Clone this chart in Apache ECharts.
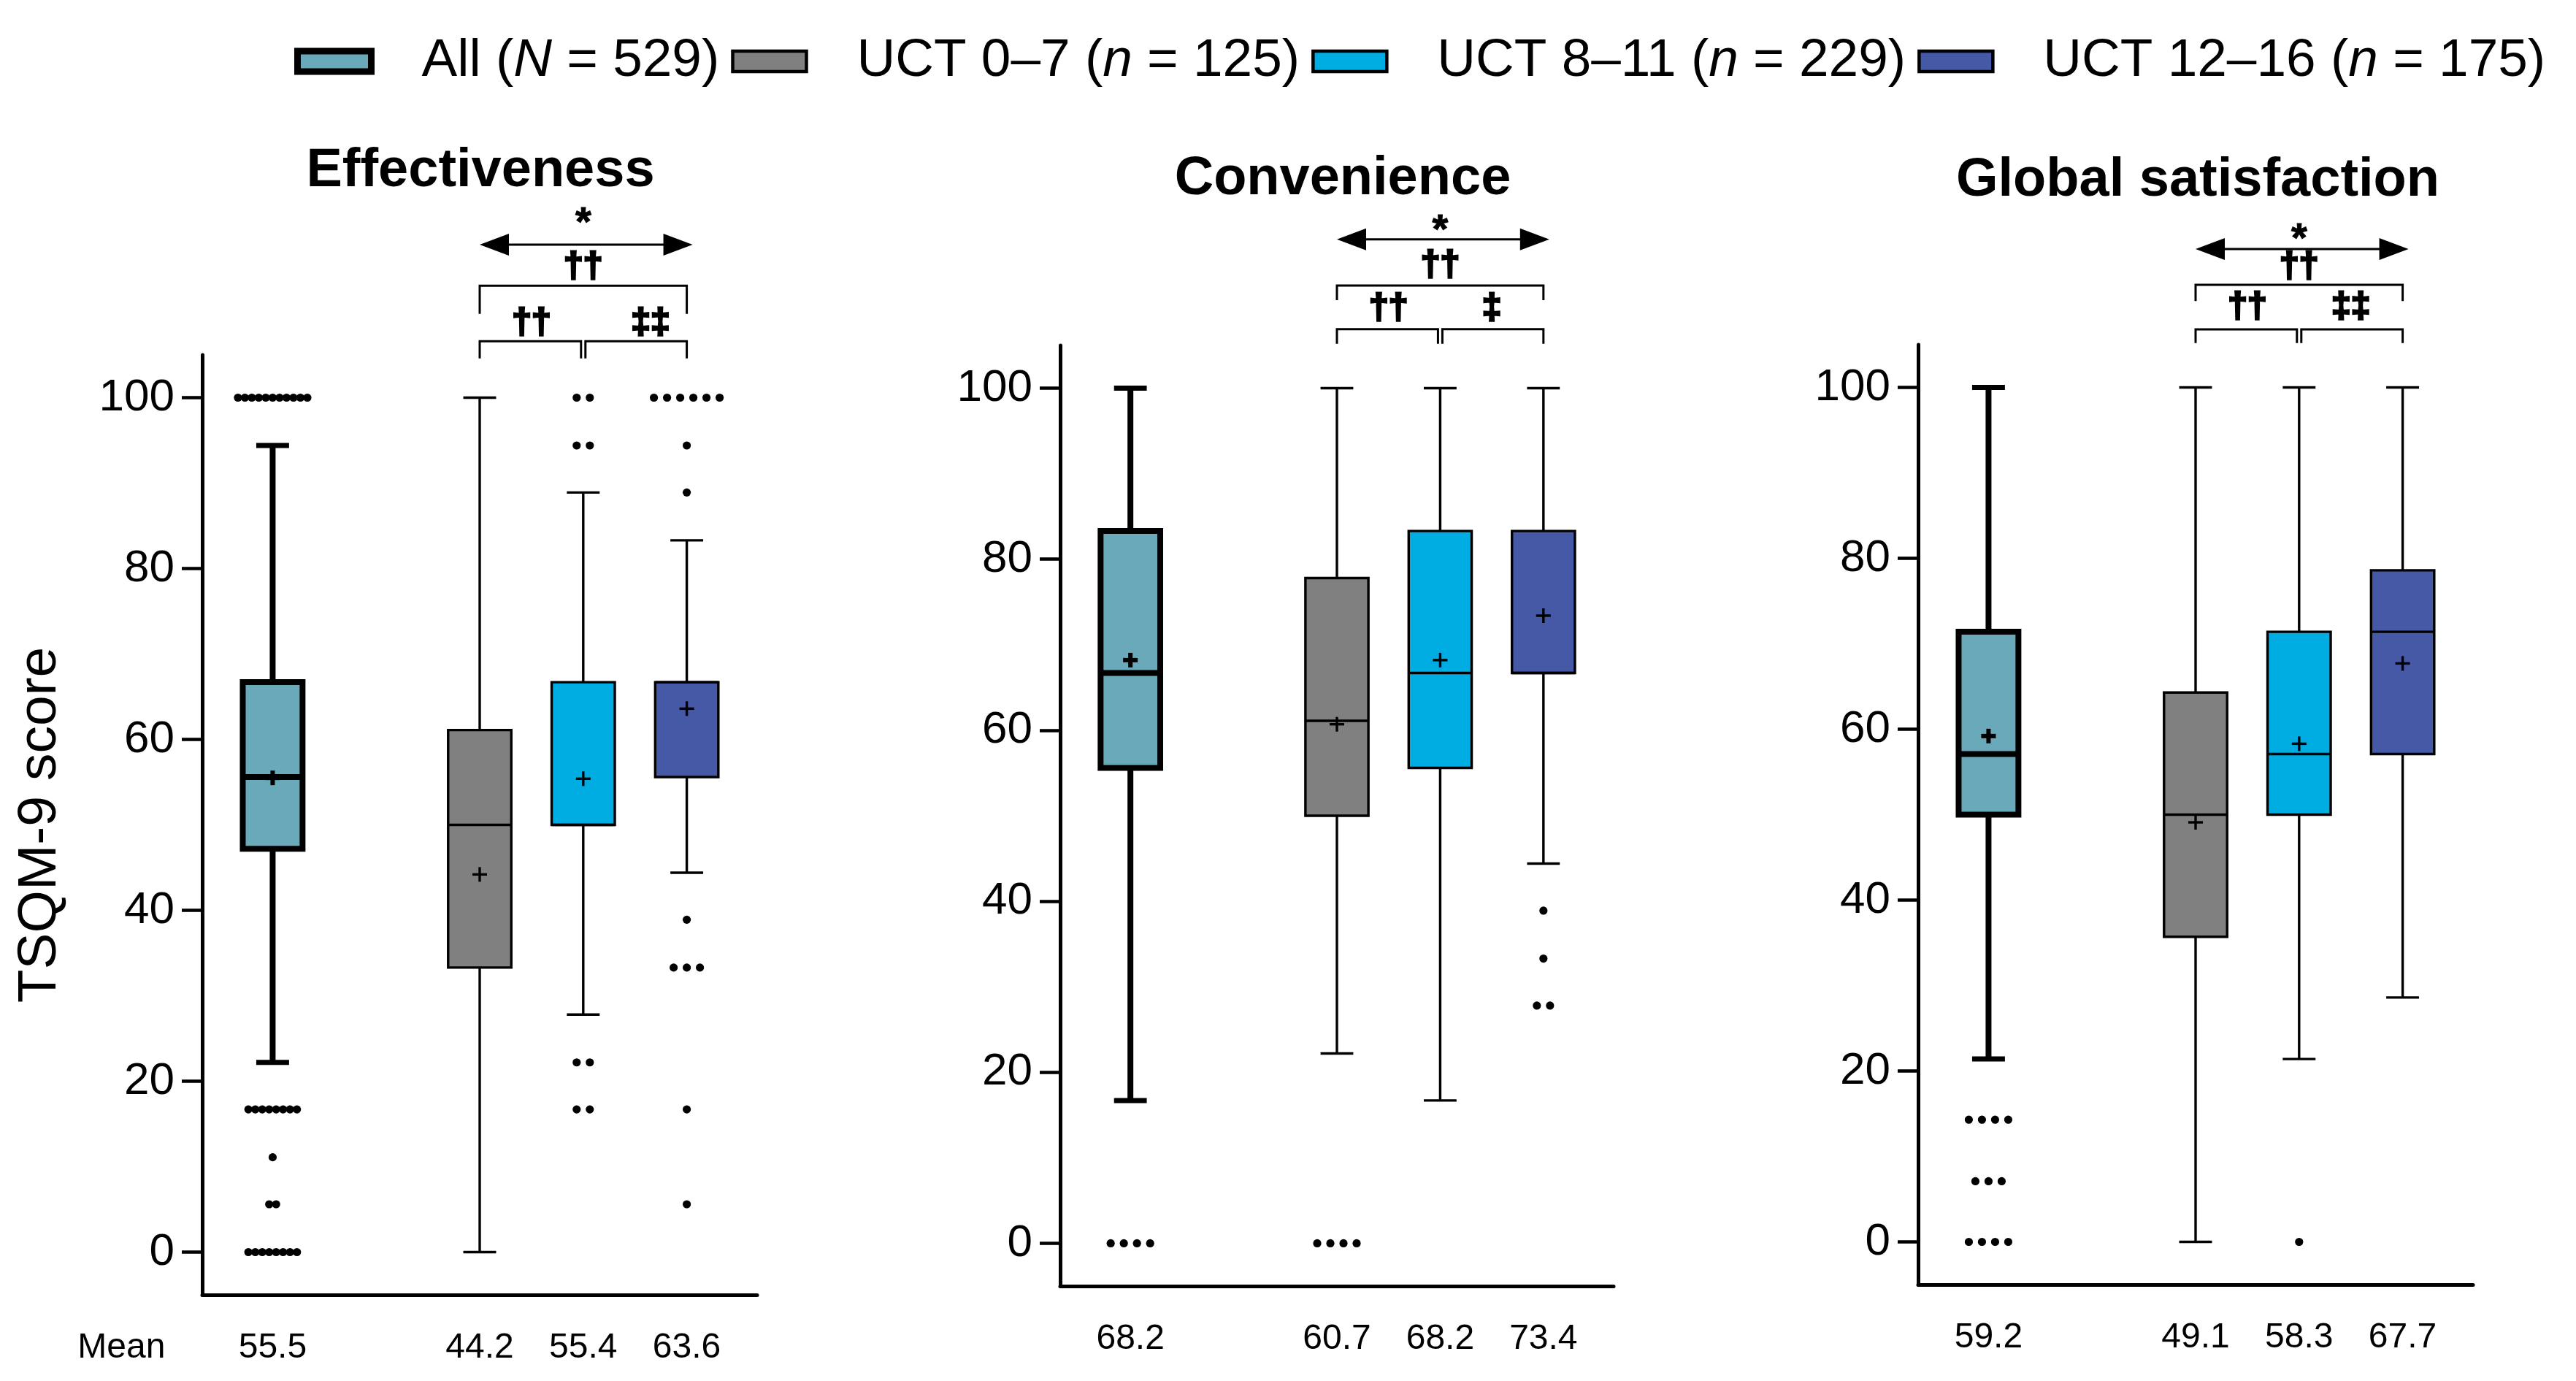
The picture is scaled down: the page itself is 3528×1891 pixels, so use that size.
<!DOCTYPE html>
<html>
<head>
<meta charset="utf-8">
<script src="https://cdn.jsdelivr.net/npm/echarts@6/dist/echarts.min.js"></script>
<style>
  html, body { margin: 0; padding: 0; background: #fff; }
  #chart { width: 3528px; height: 1891px; }
</style>
</head>
<body>
<div id="chart"></div>
<script>
// ---- data ----
var panelTitles = ['Effectiveness', 'Convenience', 'Global satisfaction'];
var groupNames = ['All (N = 529)', 'UCT 0–7 (n = 125)', 'UCT 8–11 (n = 229)', 'UCT 12–16 (n = 175)'];
var groupLabels = ['All ({i|N} = 529)', 'UCT 0–7 ({i|n} = 125)', 'UCT 8–11 ({i|n} = 229)', 'UCT 12–16 ({i|n} = 175)'];
var groupX = [0, 2, 3, 4];
var yTicks = [0, 20, 40, 60, 80, 100];

// [min whisker, Q1, median, Q3, max whisker] per group
var effBox = [[22.2, 47.2, 55.6, 66.7, 94.4], [0, 33.3, 50, 61.1, 100], [27.8, 50, 50, 66.7, 88.9], [44.4, 55.6, 66.7, 66.7, 83.3]];
var effMean = [55.5, 44.2, 55.4, 63.6];
// outliers: [value, number of dots]
var effOut = [
  [[100, 11], [16.7, 8], [11.1, 1], [5.6, 2], [0, 8]],
  [],
  [[100, 2], [94.4, 2], [22.2, 2], [16.7, 2]],
  [[100, 6], [94.4, 1], [88.9, 1], [38.9, 1], [33.3, 3], [16.7, 1], [5.6, 1]]
];
var effSig = ['*', '††', '††', '‡‡'];

var convBox = [[16.7, 55.6, 66.7, 83.3, 100], [22.2, 50, 61.1, 77.8, 100], [16.7, 55.6, 66.7, 83.3, 100], [44.4, 66.7, 66.7, 83.3, 100]];
var convMean = [68.2, 60.7, 68.2, 73.4];
var convOut = [[[0, 4]], [[0, 4]], [], [[38.9, 1], [33.3, 1], [27.8, 2]]];
var convSig = ['*', '††', '††', '‡'];

var globBox = [[21.4, 50, 57.1, 71.4, 100], [0, 35.7, 50, 64.3, 100], [21.4, 50, 57.1, 71.4, 100], [28.6, 57.1, 71.4, 78.6, 100]];
var globMean = [59.2, 49.1, 58.3, 67.7];
var globOut = [[[14.3, 4], [7.1, 3], [0, 4]], [], [[0, 1]], []];
var globSig = ['*', '††', '††', '‡‡'];

// ---- look ----
var groupColors = ['#6aa9ba', '#808080', '#00ade3', '#4559a7'];
var fontFam = '"Liberation Sans", Arial, Helvetica, sans-serif';
var boxWidth = 0.634; // in x units
var meanLabelY = -11.2;
var grids = [
  { left: 277, top: 486, width: 760, height: 1287 },
  { left: 1452, top: 473, width: 758, height: 1288 },
  { left: 2627, top: 472, width: 760, height: 1287 }
];
var titlePos = [[658, 195], [1839, 206], [3010, 208]];
// heights (y units) of the significance marks above each panel
var sigLevels = [
  { star: 120.3, arrow: 117.9, top: 115.3, upper: 113.1, upperEnd: 109.8, lowerText: 108.7, lower: 106.6, lowerEnd: 104.6, rightX: 3.65 },
  { star: 118.4, arrow: 117.4, top: 114.3, upper: 112.0, upperEnd: 110.3, lowerText: 109.3, lower: 106.9, lowerEnd: 105.2, rightX: 3.5 },
  { star: 117.3, arrow: 116.2, top: 114.1, upper: 112.0, upperEnd: 110.1, lowerText: 109.4, lower: 106.8, lowerEnd: 105.2, rightX: 3.5 }
];

var panels = [
  { box: effBox, mean: effMean, out: effOut, sig: effSig },
  { box: convBox, mean: convMean, out: convOut, sig: convSig },
  { box: globBox, mean: globMean, out: globOut, sig: globSig }
];

function ln(x1, y1, x2, y2, w) {
  return { type: 'line', shape: { x1: x1, y1: y1, x2: x2, y2: y2 }, style: { stroke: '#000', lineWidth: w } };
}

function txt(s, x, y, size, weight, heavy) {
  var st = { text: s, x: x, y: y, align: 'center', verticalAlign: 'middle', fontSize: size, fontWeight: weight || 'normal', fontFamily: fontFam, fill: '#000' };
  if (heavy) { st.stroke = '#000'; st.lineWidth = heavy; }
  return { type: 'text', style: st };
}

// box + whiskers + median + mean cross
function renderBox(params, api) {
  var x = api.value(0);
  var g = api.value(7);
  var thick = g === 0;
  var lw = thick ? 8 : 3.4;
  var half = api.size([boxWidth, 0])[0] / 2;
  var cap = half * 0.5;
  var cx = api.coord([x, 0])[0];
  var y = function(i) { return api.coord([x, api.value(i)])[1]; };
  var yMin = y(1), yQ1 = y(2), yMed = y(3), yQ3 = y(4), yMax = y(5), yMean = y(6);
  var p = 10;
  var pw = thick ? 6 : 3.4;
  return {
    type: 'group',
    children: [
      ln(cx, yMax, cx, yQ3, lw),
      ln(cx, yQ1, cx, yMin, lw),
      ln(cx - cap, yMax, cx + cap, yMax, thick ? 7 : 3.4),
      ln(cx - cap, yMin, cx + cap, yMin, thick ? 7 : 3.4),
      {
        type: 'rect',
        shape: { x: cx - half + lw / 2, y: yQ3, width: 2 * half - lw, height: yQ1 - yQ3 },
        style: { fill: api.visual('color'), stroke: '#000', lineWidth: lw }
      },
      ln(cx - half + lw / 2, yMed, cx + half - lw / 2, yMed, lw),
      ln(cx - p, yMean, cx + p, yMean, pw),
      ln(cx, yMean - p, cx, yMean + p, pw)
    ]
  };
}

// row of outlier dots
function renderOutlier(params, api) {
  var c = api.coord([api.value(0), api.value(1)]);
  var n = api.value(2), maxN = api.value(3);
  var step = maxN > 1 ? Math.min(18, 95 / (maxN - 1)) : 18;
  var kids = [];
  for (var k = 0; k < n; k++) {
    kids.push({ type: 'circle', shape: { cx: c[0] + (k - (n - 1) / 2) * step, cy: c[1], r: 5.6 }, style: { fill: '#000' } });
  }
  return { type: 'group', children: kids };
}

function renderMean(params, api) {
  var c = api.coord([api.value(0), meanLabelY]);
  return txt(api.value(1).toFixed(1), c[0], c[1], 48);
}

function makeSigRenderer(p) {
  return function(params, api) {
    var L = sigLevels[p];
    var s = panels[p].sig;
    var xa = api.coord([2, 0])[0], xb = api.coord([3, 0])[0], xc = api.coord([4, 0])[0];
    var yy = function(v) { return api.coord([0, v])[1]; };
    var ya = yy(L.arrow), yu = yy(L.upper), yue = yy(L.upperEnd), yl = yy(L.lower), yle = yy(L.lowerEnd);
    var xr = xc + 8;
    var kids = [
      ln(xa + 30, ya, xr - 30, ya, 3),
      { type: 'polygon', shape: { points: [[xa, ya], [xa + 40, ya - 15], [xa + 40, ya + 15]] }, style: { fill: '#000' } },
      { type: 'polygon', shape: { points: [[xr, ya], [xr - 40, ya - 15], [xr - 40, ya + 15]] }, style: { fill: '#000' } },
      { type: 'polyline', shape: { points: [[xa, yue], [xa, yu], [xc, yu], [xc, yue]] }, style: { stroke: '#000', lineWidth: 3, fill: null } },
      { type: 'polyline', shape: { points: [[xa, yle], [xa, yl], [xb - 3, yl], [xb - 3, yle]] }, style: { stroke: '#000', lineWidth: 3, fill: null } },
      { type: 'polyline', shape: { points: [[xb + 3, yle], [xb + 3, yl], [xc, yl], [xc, yle]] }, style: { stroke: '#000', lineWidth: 3, fill: null } },
      txt(s[0], xb, yy(L.star), 56, 'bold', 1),
      txt(s[1], xb, yy(L.top), 48, 'bold', 3),
      txt(s[2], api.coord([2.5, 0])[0], yy(L.lowerText), 48, 'bold', 3),
      txt(s[3], api.coord([L.rightX, 0])[0], yy(L.lowerText), 48, 'bold', 3)
    ];
    if (p === 0) {
      var m = api.coord([-1.46, meanLabelY]);
      kids.push(txt('Mean', m[0], m[1], 48));
    }
    return { type: 'group', children: kids };
  };
}

var xAxes = [], yAxes = [], series = [], titles = [];
panels.forEach(function(pn, p) {
  xAxes.push({
    type: 'value', gridIndex: p, min: -0.68, max: 4.68,
    axisLine: { show: true, onZero: false, lineStyle: { color: '#000', width: 5 } },
    axisTick: { show: false }, axisLabel: { show: false }, splitLine: { show: false }
  });
  yAxes.push({
    type: 'value', gridIndex: p, min: -5, max: 105,
    name: p === 0 ? 'TSQM-9 score' : '',
    nameLocation: 'middle', nameGap: 184, nameRotate: 90,
    nameTextStyle: { fontSize: 75, color: '#000', fontFamily: fontFam },
    axisLine: { show: true, onZero: false, lineStyle: { color: '#000', width: 5 } },
    axisTick: { show: true, length: 28, customValues: yTicks, lineStyle: { color: '#000', width: 4.5 } },
    axisLabel: { customValues: yTicks, fontSize: 62, color: '#000', margin: 38, fontFamily: fontFam },
    splitLine: { show: false }
  });
  titles.push({
    text: panelTitles[p], left: titlePos[p][0], top: titlePos[p][1], textAlign: 'center', padding: 0,
    textStyle: { fontSize: 74, fontWeight: 'bold', color: '#000', fontFamily: fontFam, lineHeight: 80 }
  });

  pn.box.forEach(function(b, g) {
    series.push({
      type: 'custom', name: groupNames[g], xAxisIndex: p, yAxisIndex: p, clip: false, z: 2,
      itemStyle: { color: groupColors[g] },
      renderItem: renderBox,
      data: [[groupX[g]].concat(b, [pn.mean[g], g])]
    });
  });

  var outData = [];
  pn.out.forEach(function(list, g) {
    var maxN = list.reduce(function(m, o) { return Math.max(m, o[1]); }, 1);
    list.forEach(function(o) { outData.push([groupX[g], o[0], o[1], maxN]); });
  });
  series.push({ type: 'custom', xAxisIndex: p, yAxisIndex: p, clip: false, z: 3, silent: true, renderItem: renderOutlier, data: outData });

  series.push({
    type: 'custom', xAxisIndex: p, yAxisIndex: p, clip: false, silent: true, renderItem: renderMean,
    data: pn.mean.map(function(m, g) { return [groupX[g], m]; })
  });

  series.push({ type: 'custom', xAxisIndex: p, yAxisIndex: p, clip: false, silent: true, renderItem: makeSigRenderer(p), data: [[0, 0]] });
});

var chart = echarts.init(document.getElementById('chart'));
chart.setOption({
  backgroundColor: '#fff',
  animation: false,
  title: titles,
  legend: {
    left: 403, top: 44, padding: 0, icon: 'rect',
    itemWidth: 101, itemHeight: 28, itemGap: 16, selectedMode: false,
    data: groupNames.map(function(n, g) {
      return { name: n, itemStyle: { color: groupColors[g], borderColor: '#000', borderWidth: g === 0 ? 9 : 4.5 } };
    }),
    formatter: function(name) { return groupLabels[groupNames.indexOf(name)]; },
    textStyle: {
      fontSize: 73, color: '#000', fontFamily: fontFam, lineHeight: 80, padding: [0, 0, 0, 64],
      rich: { i: { fontSize: 73, fontStyle: 'italic', color: '#000', fontFamily: fontFam, lineHeight: 80 } }
    }
  },
  grid: grids,
  xAxis: xAxes,
  yAxis: yAxes,
  series: series
});
</script>
</body>
</html>
